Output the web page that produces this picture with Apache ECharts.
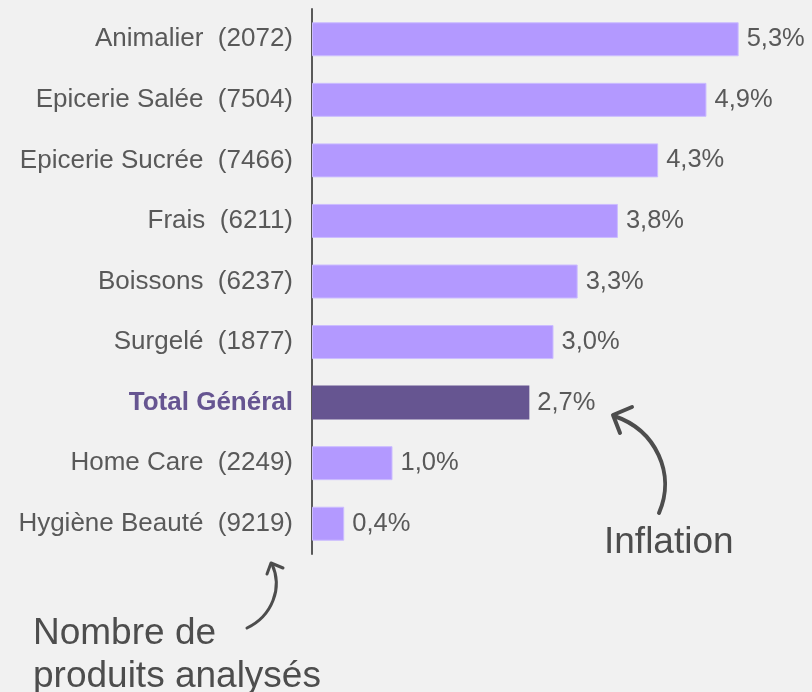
<!DOCTYPE html>
<html>
<head>
<meta charset="utf-8">
<script src="https://cdn.jsdelivr.net/npm/echarts@6/dist/echarts.min.js"></script>
<style>
  html, body { margin: 0; padding: 0; background: #f1f1f1; }
  #chart { width: 812px; height: 692px; }
</style>
</head>
<body>
<div id="chart"></div>
<script>
// categories with number of products analysed
const categories = [
  'Animalier  (2072)',
  'Epicerie Salée  (7504)',
  'Epicerie Sucrée  (7466)',
  'Frais  (6211)',
  'Boissons  (6237)',
  'Surgelé  (1877)',
  'Total Général',
  'Home Care  (2249)',
  'Hygiène Beauté  (9219)'
];
// inflation in %
const inflation = [5.3, 4.9, 4.3, 3.8, 3.3, 3.0, 2.7, 1.0, 0.4];
const totalLabel = 'Total Général';

const textColor = '#595959';
const lightBar = '#b399ff';
const darkBar = '#665591';

const chart = echarts.init(document.getElementById('chart'));

const option = {
  backgroundColor: '#f1f1f1',
  animation: false,
  textStyle: { fontFamily: 'Liberation Sans, Arial, sans-serif' },
  grid: { left: 312, top: 9, height: 545, right: 17 },
  xAxis: {
    type: 'value',
    min: 0,
    max: 6,
    show: false
  },
  yAxis: {
    type: 'category',
    inverse: true,
    data: categories,
    axisLine: { show: true, lineStyle: { color: textColor, width: 2 } },
    axisTick: { show: false },
    axisLabel: {
      margin: 19,
      fontSize: 26,
      color: textColor,
      formatter: (v) => v === totalLabel ? '{tot|' + v + '}' : v,
      rich: {
        tot: { fontSize: 26, fontWeight: 'bold', color: darkBar }
      }
    }
  },
  series: [{
    type: 'bar',
    barWidth: 34,
    data: inflation.map((v, i) => ({
      value: v,
      itemStyle: categories[i] === totalLabel
        ? { color: darkBar }
        : { color: lightBar, borderColor: '#cbbcff', borderWidth: 1 }
    })),
    label: {
      show: true,
      position: 'right',
      distance: 8,
      fontSize: 25.5,
      color: textColor,
      formatter: (p) => p.value.toFixed(1).replace('.', ',') + '%'
    }
  }],
  graphic: [
    {
      type: 'text',
      left: 604,
      top: 524,
      style: { text: 'Inflation', fill: '#4d4d4d', font: '37px Liberation Sans, Arial, sans-serif' }
    },
    {
      type: 'text',
      left: 33,
      top: 612,
      style: {
        text: 'Nombre de\nproduits analysés',
        font: '37px Liberation Sans, Arial, sans-serif',
        lineHeight: 43,
        fill: '#4d4d4d'
      }
    },
    {
      type: 'bezierCurve',
      shape: { x1: 659, y1: 513, cpx1: 676, cpy1: 474, cpx2: 656, cpy2: 430, x2: 614, y2: 416 },
      style: { stroke: '#4d4d4d', lineWidth: 4, fill: 'none', lineCap: 'round' }
    },
    {
      type: 'polyline',
      shape: { points: [[632, 407], [613, 415], [620, 433]] },
      style: { stroke: '#4d4d4d', lineWidth: 4, fill: 'none', lineCap: 'round', lineJoin: 'round' }
    },
    {
      type: 'bezierCurve',
      shape: { x1: 247, y1: 628, cpx1: 272, cpy1: 616, cpx2: 283, cpy2: 588, x2: 272, y2: 564 },
      style: { stroke: '#4d4d4d', lineWidth: 3, fill: 'none', lineCap: 'round' }
    },
    {
      type: 'polyline',
      shape: { points: [[283, 568], [271, 563], [267, 574]] },
      style: { stroke: '#4d4d4d', lineWidth: 3, fill: 'none', lineCap: 'round', lineJoin: 'round' }
    }
  ]
};

chart.setOption(option);
</script>
</body>
</html>
